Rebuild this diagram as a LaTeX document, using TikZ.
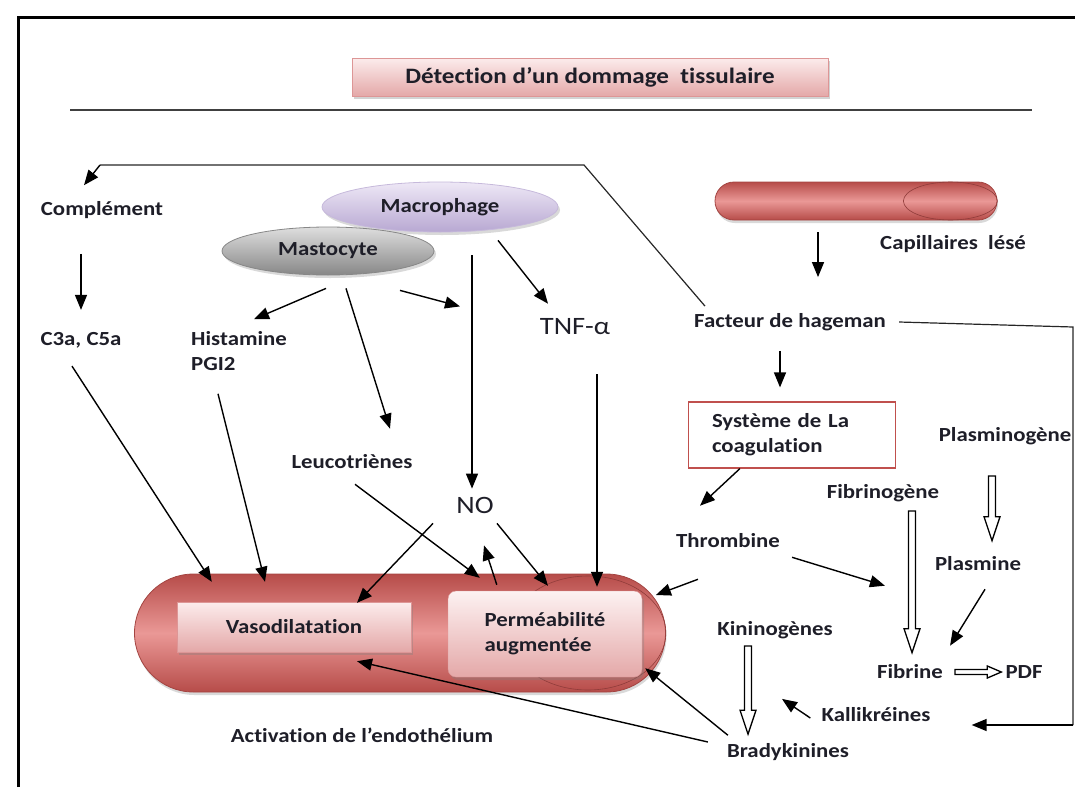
\documentclass[tikz,border=0pt]{standalone}
\usepackage{fontspec}
\setmainfont{Carlito}[FakeStretch=1.14,Ligatures=NoCommon]
\usetikzlibrary{arrows.meta,shapes.geometric,shadows,calc}

\definecolor{textcol}{RGB}{30,30,40}
\definecolor{vesselred}{RGB}{192,80,77}
\definecolor{vessellight}{RGB}{234,152,150}
\definecolor{pinklight}{RGB}{252,236,236}
\definecolor{pinkdark}{RGB}{228,168,168}
\definecolor{lavlight}{RGB}{238,232,246}
\definecolor{lavdark}{RGB}{184,168,210}
\definecolor{graylight}{RGB}{222,222,222}
\definecolor{graydark}{RGB}{135,135,135}

% hollow arrows (vertical / horizontal)
\newcommand{\hollowdown}[2]{%
  \draw[line width=1.3pt,fill=white] let \p1=(#1), \p2=(#2) in
    (\x1-3.5pt,\y1) -- (\x1-3.5pt,\y2+24pt) -- (\x1-8pt,\y2+24pt) -- (\x1,\y2)
    -- (\x1+8pt,\y2+24pt) -- (\x1+3.5pt,\y2+24pt) -- (\x1+3.5pt,\y1) -- cycle;}
\newcommand{\hollowright}[2]{%
  \draw[line width=1.3pt,fill=white] let \p1=(#1), \p2=(#2) in
    (\x1,\y1+2.5pt) -- (\x2-14pt,\y1+2.5pt) -- (\x2-14pt,\y1+6pt) -- (\x2,\y1)
    -- (\x2-14pt,\y1-6pt) -- (\x2-14pt,\y1-2.5pt) -- (\x1,\y1-2.5pt) -- cycle;}

\begin{document}
\begin{tikzpicture}[x=1pt,y=-1pt,
  lbl/.style={font=\bfseries\fontsize{20}{25}\selectfont,text=textcol,inner sep=1pt},
  big/.style={font=\fontsize{25}{26}\selectfont,text=textcol,inner sep=1pt},
  arr/.style={line width=1.4pt,-{Triangle[length=15pt,width=12pt]}},
  link/.style={line width=1.2pt,black!85},
  pinkbox/.style={lbl,top color=pinklight,bottom color=pinkdark,draw=pinkdark!80!vesselred,
    drop shadow={shadow xshift=2pt,shadow yshift=-3pt,opacity=.35}},
  cell/.style={ellipse,lbl,draw=#1,line width=.8pt,
    drop shadow={shadow xshift=2pt,shadow yshift=-3pt,opacity=.3}},
  tube/.style={draw=vesselred!85!black,line width=.8pt,top color=vesselred!95!black,
    bottom color=vesselred!95!black,middle color=vessellight,
    drop shadow={shadow xshift=1pt,shadow yshift=-3pt,opacity=.3}},
]
\useasboundingbox (0,0) rectangle (1075,787);

% frame and title
\draw[line width=3pt] (18,787) -- (18,17) -- (1075,17);
\node[pinkbox,font=\bfseries\fontsize{22}{24}\selectfont,minimum width=476,minimum height=38]
  (title) at (590,77) {Détection d’un dommage\ \ tissulaire};
\draw[line width=2pt,black!75] (70,110) -- (1032,110);

% vessel
\node[tube,minimum width=531,minimum height=118,rounded corners=59] (vessel) at (400,633) {};
\draw[vesselred!75!black,line width=.6pt] ($(vessel.east)+(-78,0)$) ellipse [x radius=78,y radius=57];
\node[pinkbox,minimum width=234,minimum height=50] (vaso) at (294,627) {Vasodilatation};
\node[pinkbox,top color=pinklight!70!white,minimum width=194,minimum height=86,
  rounded corners=8,align=left] (perm) at (545,634) {Perméabilité\\augmentée};

% cells
\node[cell=lavdark!80!white,top color=lavlight,bottom color=lavdark,
  minimum width=236,minimum height=50] (macro) at (440,207) {Macrophage};
\node[cell=graydark,top color=graylight,bottom color=graydark,
  minimum width=212,minimum height=48] (masto) at (328,251) {Mastocyte};

% capillary
\node[tube,minimum width=282,minimum height=38,rounded corners=19] (capil) at (856,201) {};
\draw[vesselred!75!black,line width=.6pt] ($(capil.east)+(-47,0)$) ellipse [x radius=47,y radius=19];

% labels
\node[lbl] (comp) at (102,210) {Complément};
\node[lbl] (c3a) at (81,340) {C3a, C5a};
\node[lbl,anchor=west,align=left] (hist) at (190,351) {Histamine\\PGI2};
\node[big] (tnf) at (575,327) {TNF-α};
\node[lbl] (leuco) at (352,462) {Leucotriènes};
\node[big] (no) at (475,505) {NO};
\node[lbl] (activ) at (362,735) {Activation de l’endothélium};
\node[lbl] (capl) at (953,244) {Capillaires\ \ lésé};
\node[lbl] (hag) at (790,322) {Facteur de hageman};
\node[lbl,draw=vesselred,line width=1.2pt,fill=white,minimum width=207,minimum height=66,
  text width=160,align=left] (coag) at (792,435) {Système de La\\coagulation};
\node[lbl] (plasminogene) at (1005,436) {Plasminogène};
\node[lbl] (fibrinogene) at (883,493) {Fibrinogène};
\node[lbl] (thromb) at (728,541) {Thrombine};
\node[lbl] (plasmine) at (978,564) {Plasmine};
\node[lbl] (kinino) at (775,630) {Kininogènes};
\node[lbl] (fibrine) at (910,672) {Fibrine};
\node[lbl] (pdf) at (1024,672) {PDF};
\node[lbl] (kalli) at (876,715) {Kallikréines};
\node[lbl] (brady) at (788,752) {Bradykinines};

% left side
\draw[arr] ($(c3a.north |- comp.south)+(0,34)$) -- ($(c3a.north)+(0,-21)$);
\draw[arr] ($(c3a.south)+(-9,17)$) -- ($(vaso.north west)+(35,-20)$);
\draw[arr] ($(hist.south west)+(28,22)$) -- ($(vaso.north)+(-29,-20)$);
\draw[arr] ($(masto.south)+(-2,13)$) -- ($(hist.north)+(15,-11)$);
\draw[arr] ($(masto.south)+(18,13)$) -- ($(leuco.north)+(38,-25)$);
\draw[arr] ($(masto.south)+(72,15)$) -- ($(masto.south)+(132,31)$);
\draw[arr] ($(macro.south)+(32,23)$) -- ($(no.north)+(-3,-7)$);
\draw[arr] ($(macro.south)+(58,8)$) -- ($(tnf.north)+(-27,-14)$);
\draw[arr] ($(tnf.south)+(22,38)$) -- ($(perm.north)+(52,-4)$);
\draw[arr] ($(leuco.south)+(3,14)$) -- ($(perm.north west)+(32,-13)$);
\draw[arr] ($(no.south)+(-42,9)$) -- ($(vaso.north)+(63,1)$);
\draw[arr] ($(perm.north west)+(49,-6)$) -- ($(no.south)+(9,31)$);
\draw[arr] ($(no.south)+(22,9)$) -- ($(perm.north)+(3,-5)$);
\draw[arr] ($(brady.west)+(-18,-10)$) -- ($(vaso.south)+(63,9)$);
\draw[arr] ($(brady.north west)+(2,-7)$) -- ($(perm.south east)+(3,-9)$);

% right side
\draw[arr] ($(capil.south)+(-38,12)$) -- ($(hag.north)+(28,-35)$);
\draw[arr] ($(hag.south)+(-10,19)$) -- ($(coag.north)+(-12,-14)$);
\draw[arr] ($(coag.south west)+(52,0)$) -- ($(thromb.north)+(-28,-27)$);
\draw[arr] ($(thromb.south west)+(23,30)$) -- ($(vessel.east)+(-10,-38)$);
\draw[arr] ($(thromb.south east)+(11,8)$) -- ($(fibrine.north west)+(9,-78)$);
\draw[arr] ($(plasmine.south)+(7,17)$) -- ($(fibrine.north east)+(6,-18)$);
\draw[arr] ($(kalli.west)+(-10,3)$) -- ($(kinino.south)+(7,59)$);
\hollowdown{$(fibrinogene.south)+(29,8)$}{$(fibrine.north)+(2,-11)$}
\hollowdown{$(plasminogene.south)+(-13,30)$}{$(plasmine.north)+(14,-15)$}
\hollowdown{$(kinino.south)+(-27,6)$}{$(brady.north)+(-40,-8)$}
\hollowright{$(fibrine.east)+(11,0)$}{$(pdf.west)+(-3,0)$}

% long loops from Facteur de hageman
\coordinate (bendA) at (584,165);
\coordinate (bendB) at (100,165);
\coordinate (bendC) at (1073,327);
\coordinate (bendD) at (1073,725);
\draw[link] ($(hag.north west)+(12,-6)$) -- (bendA) -- (bendB);
\draw[arr] (bendB) -- ($(comp.north)+(-18,-15)$);
\draw[link] ($(hag.east)+(12,0)$) -- (bendC) -- (bendD);
\draw[arr] (bendD) -- ($(kalli.east)+(40,10)$);
\end{tikzpicture}
\end{document}
